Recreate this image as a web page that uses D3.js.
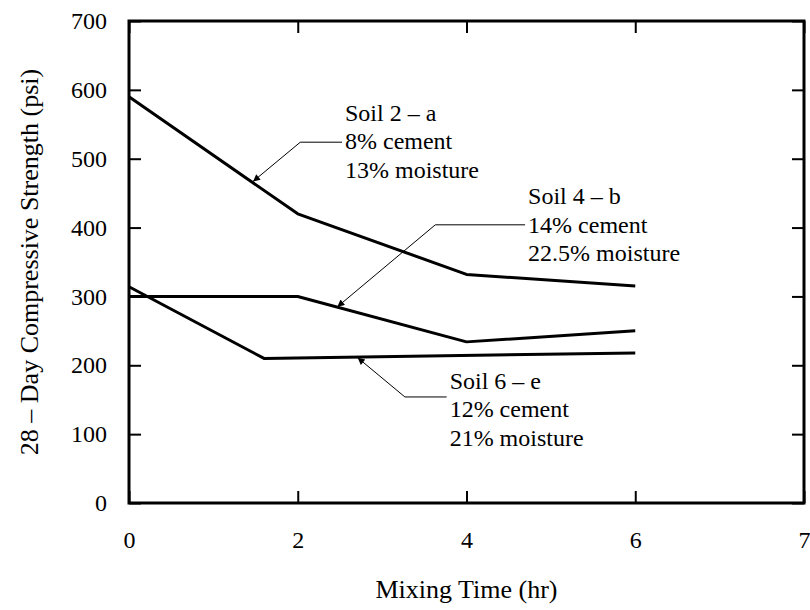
<!DOCTYPE html>
<html>
<head>
<meta charset="utf-8">
<script src="https://cdn.jsdelivr.net/npm/d3@7"></script>
<style>
  body { margin: 0; background: #fff; }
</style>
</head>
<body>
<div id="graph"></div>
<script>
// mixing time (hr) vs 28-day strength (psi)
var soil2a = [[0, 590], [2, 420], [4, 332], [6, 315]]
var soil4b = [[0, 300], [2, 300], [4, 234], [6, 250]]
var soil6e = [[0, 314], [1.6, 210], [6, 218]]

var xTicks = [0, 2, 4, 6, 8]
var xTickLabels = ['0', '2', '4', '6', '7']
var yTicks = [0, 100, 200, 300, 400, 500, 600, 700]

// labels: arrow tip, elbow, text anchor (all in data units)
var notes = [
  {lines: ['Soil 2 – a', '8% cement', '13% moisture'], tip: [1.47, 467], elbow: [2.03, 524], text: [2.56, 555]},
  {lines: ['Soil 4 – b', '14% cement', '22.5% moisture'], tip: [2.47, 285], elbow: [3.63, 404], text: [4.73, 434]},
  {lines: ['Soil 6 – e', '12% cement', '21% moisture'], tip: [2.71, 211], elbow: [3.27, 154], text: [3.80, 166]},
]

var W = 810, H = 610
var m = {top: 21, right: 6, bottom: 107, left: 129}

var svg = d3.select('#graph').append('svg')
  .attr('width', W).attr('height', H)
  .attr('font-family', 'serif')

var x = d3.scaleLinear().domain([0, 8]).range([m.left, W - m.right])
var y = d3.scaleLinear().domain([0, 700]).range([H - m.bottom, m.top])

var tickLen = 12

// y axis (left) + mirrored right ticks
var yl = svg.append('g').attr('transform', `translate(${m.left},0)`)
  .call(d3.axisLeft(y).tickValues(yTicks).tickSizeInner(-tickLen).tickSizeOuter(0).tickPadding(tickLen + 10))
var yr = svg.append('g').attr('transform', `translate(${W - m.right},0)`)
  .call(d3.axisRight(y).tickValues(yTicks).tickSizeInner(-tickLen).tickSizeOuter(0).tickFormat(''))

var xb = svg.append('g').attr('transform', `translate(0,${H - m.bottom})`)
  .call(d3.axisBottom(x).tickValues(xTicks).tickSizeInner(-tickLen).tickSizeOuter(0).tickPadding(tickLen + 16)
    .tickFormat((d, i) => xTickLabels[i]))
var xt = svg.append('g').attr('transform', `translate(0,${m.top})`)
  .call(d3.axisTop(x).tickValues(xTicks).tickSizeInner(-tickLen).tickSizeOuter(0).tickFormat(''))

;[yl, yr, xb, xt].forEach(g => {
  g.attr('font-family', 'serif').attr('font-size', 24)
  g.select('.domain').remove()
  g.selectAll('.tick line').attr('stroke', '#000').attr('stroke-width', 2)
  g.selectAll('text').attr('fill', '#000')
})
xb.selectAll('text').attr('dy', '0.71em')

// frame
svg.append('rect')
  .attr('x', m.left).attr('y', m.top)
  .attr('width', W - m.right - m.left).attr('height', H - m.bottom - m.top)
  .attr('fill', 'none').attr('stroke', '#000').attr('stroke-width', 3)

var line = d3.line().x(d => x(d[0])).y(d => y(d[1]))

svg.selectAll('path.series')
  .data([soil2a, soil4b, soil6e])
  .join('path')
  .attr('class', 'series')
  .attr('d', line)
  .attr('fill', 'none')
  .attr('stroke', '#000')
  .attr('stroke-width', 3)
  .attr('stroke-linejoin', 'round')

// arrow marker
svg.append('defs').append('marker')
  .attr('id', 'arr')
  .attr('viewBox', '0 -5 10 10')
  .attr('refX', 10).attr('refY', 0)
  .attr('markerWidth', 9).attr('markerHeight', 7)
  .attr('markerUnits', 'userSpaceOnUse')
  .attr('orient', 'auto')
  .append('path').attr('d', 'M0,-5L10,0L0,5Z').attr('fill', '#000')

var ng = svg.selectAll('g.note').data(notes).join('g').attr('class', 'note')

ng.append('path')
  .attr('d', d => {
    var tx = x(d.text[0]) - 3
    var ey = y(d.elbow[1])
    return 'M' + [tx, ey] + 'L' + [x(d.elbow[0]), ey] + 'L' + [x(d.tip[0]), y(d.tip[1])]
  })
  .attr('fill', 'none')
  .attr('stroke', '#000')
  .attr('stroke-width', 1)
  .attr('marker-end', 'url(#arr)')

ng.append('text')
  .attr('transform', d => `translate(${x(d.text[0])},${y(d.text[1])})`)
  .attr('font-family', 'serif')
  .attr('font-size', 24)
  .selectAll('tspan')
  .data(d => d.lines)
  .join('tspan')
  .attr('x', 0)
  .attr('y', (d, i) => i * 28.5)
  .text(d => d)

// axis titles
svg.append('text')
  .attr('x', (m.left + W - m.right) / 2)
  .attr('y', 598)
  .attr('text-anchor', 'middle')
  .attr('font-family', 'serif')
  .attr('font-size', 26)
  .text('Mixing Time (hr)')

svg.append('text')
  .attr('transform', `translate(38,${(m.top + H - m.bottom) / 2}) rotate(-90)`)
  .attr('text-anchor', 'middle')
  .attr('font-family', 'serif')
  .attr('font-size', 26)
  .text('28 – Day Compressive Strength (psi)')
</script>
</body>
</html>
